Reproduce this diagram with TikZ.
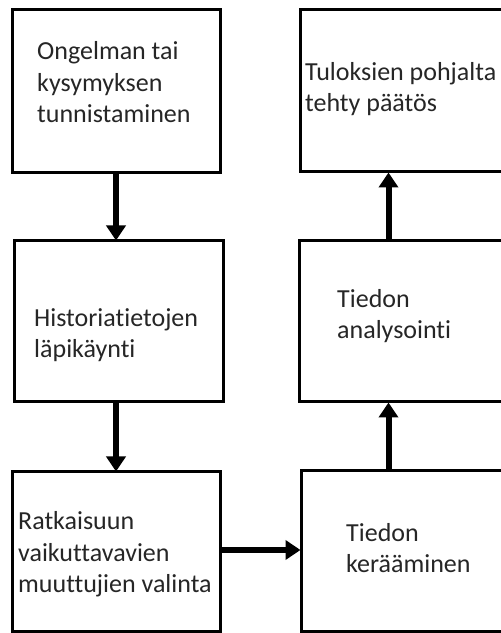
\documentclass[tikz,border=0pt]{standalone}
\usepackage{fontspec}
\setmainfont{Carlito}[Ligatures=NoCommon]
\usetikzlibrary{arrows.meta,calc}
\begin{document}
\begin{tikzpicture}[x=1pt,y=1pt,
  stagebox/.style={draw=black,line width=3pt,rectangle,inner sep=0pt,fill=white},
  stagetext/.style={anchor=base west,align=left,inner sep=0pt,text=black!85,
    font=\fontsize{26}{31.5}\selectfont},
  flow/.style={line width=6pt,-{Triangle[width=19pt,length=15pt]},shorten >=-1pt}]
\useasboundingbox (0,0) rectangle (501,633);
\clip (0,0) rectangle (501,633);
% left column
\node[stagebox,minimum width=208pt,minimum height=163pt] (A) at (116,541.5) {};
\node[stagebox,minimum width=209pt,minimum height=161pt] (B) at (118.5,311.5) {};
\node[stagebox,minimum width=208pt,minimum height=160pt] (C) at (116,81) {};
% right column (runs past the right edge)
\node[stagebox,minimum width=220pt,minimum height=162pt] (D) at (410,542) {};
\node[stagebox,minimum width=221pt,minimum height=161pt] (E) at (409.5,311.5) {};
\node[stagebox,minimum width=219pt,minimum height=161pt] (F) at (410.5,81.5) {};
% labels (anchored at the baseline of their last line)
\node[stagetext] (tA) at (37,510) {Ongelman tai\\kysymyksen\\tunnistaminen};
\node[stagetext] (tB) at (34,275) {Historiatietojen\\läpikäynti};
\node[stagetext] (tC) at (18,40) {Ratkaisuun\\vaikuttavavien\\muuttujien valinta};
\node[stagetext] (tD) at (305,521) {Tuloksien pohjalta\\tehty päätös};
\node[stagetext] (tE) at (337,294) {Tiedon\\analysointi};
\node[stagetext] (tF) at (346,60) {Tiedon\\kerääminen};
% connectors
\coordinate (Fup) at ($(F.north west)+(89,0)$);
\coordinate (Eup) at ($(E.north west)+(91,0)$);
\coordinate (Edn) at ($(E.south west)+(91,0)$);
\coordinate (Ddn) at ($(D.south west)+(90,0)$);
\draw[flow] (A.south) -- (A.south |- B.north);
\draw[flow] (B.south -| A.south) -- (C.north -| A.south);
\draw[flow] (C.east |- 0,83) -- (F.west |- 0,83);
\draw[flow] (Fup) -- (Edn);
\draw[flow] (Eup) -- (Ddn);
\end{tikzpicture}
\end{document}
